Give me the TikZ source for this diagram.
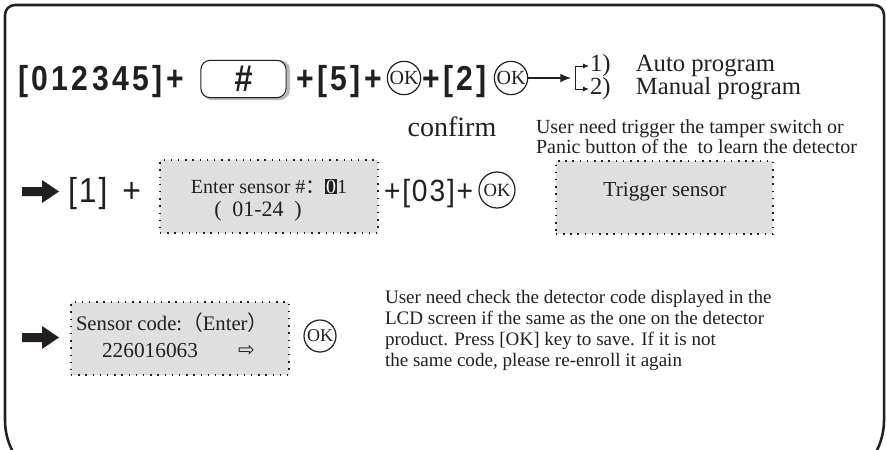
\documentclass[tikz,border=0pt]{standalone}
\usepackage{fontspec}
\setmainfont{Liberation Serif}
\newfontfamily\keyfont[FakeStretch=0.87,LetterSpace=10]{Liberation Sans}
\newfontfamily\sansn[FakeStretch=0.92,LetterSpace=6]{Liberation Sans}
\newfontfamily\cjk{Noto Sans CJK SC}
\newfontfamily\dv{DejaVu Sans}
\usetikzlibrary{arrows.meta}
\definecolor{boxgray}{HTML}{DFDFDF}
\definecolor{ink}{HTML}{231F20}
\tikzset{
  okbtn/.style={circle, draw=ink, line width=0.9pt, inner sep=0pt, minimum size=#1},
  okbtn/.default=24pt
}
\begin{document}
\begin{tikzpicture}[x=0.75pt,y=-0.75pt,
  every node/.style={inner sep=0pt, outer sep=0pt, text=ink},
  keytxt/.style={font=\keyfont\bfseries\fontsize{26}{26}\selectfont, anchor=base west},
  sanstxt/.style={font=\sansn\fontsize{23}{23}\selectfont, anchor=base west},
  lcd/.style={fill=boxgray, draw=ink, line width=1.1pt, dash pattern=on 1.1pt off 4.3pt},
  para/.style={align=left, anchor=north west},
  sel/.style={font=\fontsize{18.5}{18.5}\selectfont, anchor=base west},
  lcdtxt/.style={font=\fontsize{15}{15}\selectfont, anchor=base},
  thin arrow/.style={ink, line width=0.8pt, -{Latex[length=8pt,width=6.5pt]}},
  tiny arrow/.style={ink, line width=0.7pt, -{Latex[length=4.5pt,width=3.8pt]}}
]
\useasboundingbox (0,0) rectangle (887,449);
% frame
\draw[ink, line width=1.9pt] (5,420) -- (5,15) arc (180:270:10) -- (874,5) arc (270:360:10)
  -- (884,420) arc (0:90:68) -- (73,488) arc (90:180:68) -- cycle;

% row 1
\node[keytxt] (k1) at (18,91) {[012345]+};
\node[draw=gray!55, line width=2.2pt, rounded corners=7pt, minimum width=64pt, minimum height=28pt] (hashsh) at (246,80) {};
\node[draw=ink, fill=white, line width=0.8pt, rounded corners=7pt, minimum width=64pt, minimum height=28pt,
  font=\keyfont\bfseries\itshape\fontsize{28}{28}\selectfont] (hash) at (243.5,79) {\#};
\node[keytxt] (k5) at (296,91) {+[5]+};
\node[okbtn=25pt, font=\fontsize{15}{15}\selectfont] (ok1) at (404,78) {OK};
\node[keytxt] (k2) at (422,91) {+[2]};
\node[okbtn=25pt, font=\fontsize{15}{15}\selectfont] (ok2) at (511,78) {OK};
\coordinate (brk) at (571,78);
\coordinate (b1) at (575,66);
\coordinate (b2) at (575,89);
\coordinate (a1) at (589,66);
\coordinate (a2) at (589,89);
\draw[thin arrow] (ok2) -- (brk);
\draw[ink, line width=0.7pt] (b1) -- (b2);
\draw[tiny arrow] (b1) -- (a1);
\draw[tiny arrow] (b2) -- (a2);
\node[sel] (auto) at (590,72) {1)\hspace{19pt}Auto program};
\node[sel] (manual) at (590,95) {2)\hspace{19pt}Manual program};
\node[font=\fontsize{21}{21}\selectfont, anchor=base] (confirm) at (452,137) {confirm};
\node[para, font=\fontsize{15}{15}\selectfont] (note1) at (536,120) {User need trigger the tamper switch or\\Panic button of the\ \ to learn the detector};

% row 2
\fill[ink] (22,187) -- (42,187) -- (42,180) -- (59,191.5) -- (42,203) -- (42,196) -- (22,196) -- cycle;
\node[sanstxt, font=\sansn\fontsize{26}{26}\selectfont] (k1b) at (68,202) {[1]\hspace{11pt}+};
\node[lcd, minimum width=163.5pt, minimum height=54.75pt] (lcd1) at (269,196.5) {};
\node[lcdtxt] (enter) at (269,193) {Enter sensor \#{\cjk ：}{\setlength{\fboxsep}{0.6pt}\colorbox{ink}{\textcolor{white}{0}}}1};
\node[lcdtxt, font=\fontsize{16.5}{16.5}\selectfont] (range) at (258,216) {(\hspace{8pt}01-24\hspace{8pt})};
\node[sanstxt] (k03) at (384,201) {+[03]+};
\node[okbtn=27pt, font=\fontsize{14}{14}\selectfont] (ok3) at (497,190) {OK};
\node[lcd, minimum width=163pt, minimum height=54.75pt] (lcd2) at (664.5,197.5) {};
\node[lcdtxt, font=\fontsize{16}{16}\selectfont] (trig) at (665,196) {Trigger sensor};

% row 3
\fill[ink] (22,333) -- (42,333) -- (42,326) -- (59,337.5) -- (42,349) -- (42,342) -- (22,342) -- cycle;
\node[lcd, minimum width=163.5pt, minimum height=54.75pt] (lcd3) at (180,338.5) {};
\node[font=\fontsize{15.5}{15.5}\selectfont, anchor=base west] (scode) at (76,330) {Sensor code:{\cjk （}Enter{\cjk ）}};
\node[font=\fontsize{16}{16}\selectfont, anchor=base west] (num) at (102,357) {226016063};
\node[font=\dv\fontsize{15}{15}\selectfont, anchor=base west] (narr) at (238,356) {⇨};
\node[okbtn=24pt, font=\fontsize{13.5}{13.5}\selectfont] (ok4) at (320,336) {OK};
\node[para, font=\fontsize{14.3}{15.75}\selectfont] (note2) at (385,290) {User need check the detector code displayed in the\\LCD screen if the same as the one on the detector\\product. Press [OK] key to save. If it is not\\the same code, please re-enroll it again};
\end{tikzpicture}
\end{document}
